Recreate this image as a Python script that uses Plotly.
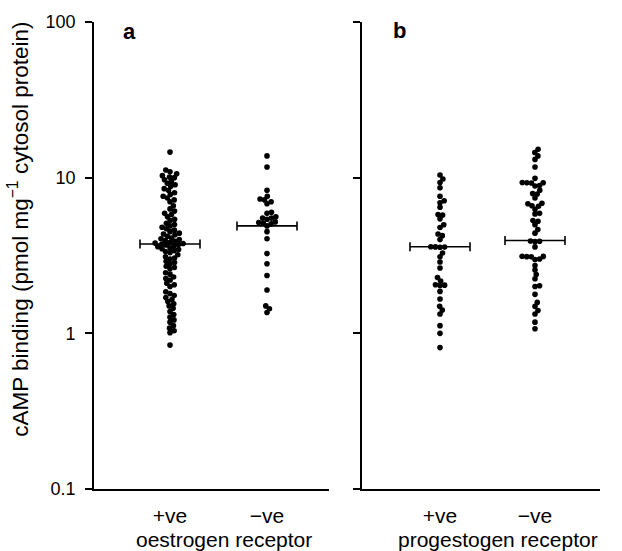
import numpy as np
import plotly.graph_objects as go

# ---------------- data ----------------
groups = ["+ve", "−ve"]

oestrogen_pos = [
    14.6,
    11.2, 10.9, 10.6, 10.3, 10.1, 10.0, 9.7, 9.5, 9.2, 9.0, 8.8, 8.5, 8.3, 8.0, 7.8, 7.6, 7.4, 7.2, 7.0,
    6.6, 6.3, 6.1, 5.9, 5.8, 5.6, 5.4, 5.3, 5.1, 5.0, 4.9, 4.8, 4.7, 4.6,
    4.5, 4.4, 4.35, 4.3, 4.2, 4.1, 4.05, 4.0, 3.95, 3.9, 3.85, 3.8, 3.78, 3.75, 3.72, 3.7,
    3.65, 3.6, 3.55, 3.5, 3.45, 3.4, 3.35, 3.3,
    3.2, 3.1, 3.05, 3.0, 2.9, 2.85, 2.8, 2.7, 2.65, 2.6,
    2.45, 2.4, 2.3, 2.25, 2.2, 2.1, 2.05, 2.0,
    1.85, 1.8, 1.75, 1.7, 1.65, 1.6, 1.55, 1.5, 1.45,
    1.38, 1.32, 1.27, 1.22, 1.18, 1.12, 1.08, 1.04, 1.01,
    0.84,
]
oestrogen_neg = [
    13.8, 11.7, 8.3, 7.6, 7.3, 7.2, 7.0, 6.8, 6.0, 5.9, 5.6, 5.5, 5.5, 5.4,
    5.2, 5.15, 5.1, 5.05, 4.9, 4.5, 4.05, 3.25, 2.8, 2.35, 1.9, 1.5, 1.44, 1.36,
]
progestogen_pos = [
    10.4, 9.8, 9.3, 8.6, 7.6, 7.1, 6.9, 6.45, 5.8, 5.75, 5.44, 4.98, 4.79, 4.35,
    4.24, 4.0, 3.6, 3.59, 3.58, 3.57, 3.28, 3.1, 2.87, 2.63, 2.28, 2.17, 2.05,
    2.04, 2.03, 1.86, 1.66, 1.49, 1.41, 1.33, 1.12, 1.0, 0.81,
]
progestogen_neg = [
    15.2, 14.5, 13.8, 13.1, 11.7, 9.9, 9.3, 9.28, 9.26, 9.24, 8.9, 8.85, 8.3,
    7.9, 7.85, 7.4, 6.85, 6.8, 6.6, 6.55, 6.27, 5.9, 5.85, 5.3, 5.25, 4.99,
    4.64, 4.4, 3.92, 3.9, 3.88, 3.59, 3.13, 3.12, 3.11, 3.1, 3.0, 2.98, 2.73,
    2.55, 2.39, 2.24, 2.02, 2.0, 1.78, 1.58, 1.49, 1.40, 1.33, 1.18, 1.07,
]
oestrogen_means = [3.75, 4.9]
progestogen_means = [3.6, 3.95]

y_ticks = [0.1, 1, 10, 100]
y_ticklabels = ["0.1", "1", "10", "100"]

# ---------------- layout constants ----------------
W, H = 622, 551
ML, MR, MT, MB = 94, 22, 17, 62
plot_w = W - ML - MR
plot_h = H - MT - MB
px_per_decade = plot_h / 3.0
panel_a_w = 235
panel_b_start = 362 - ML
panel_b_w = plot_w - panel_b_start
col_a = [76, 173]
col_b = [78, 173]
half_bar = 30
dot_d = 4.6
FONT = "Liberation Sans, Arial, Helvetica, sans-serif"


def swarm(values, d):
    ys = px_per_decade * np.log10(np.asarray(values, dtype=float))
    order = np.argsort(ys)
    placed = []
    xs = np.zeros(len(ys))
    for i in order:
        y = ys[i]
        near = [(px, py) for px, py in placed if abs(py - y) < d]
        cands = [0.0]
        for px, py in near:
            dx = np.sqrt(d * d - (py - y) ** 2)
            cands += [px + dx, px - dx]
        cands.sort(key=abs)
        for c in cands:
            if all((c - px) ** 2 + (y - py) ** 2 >= d * d - 1e-6 for px, py in near):
                xs[i] = c
                break
        placed.append((xs[i], y))
    return xs


fig = go.Figure()

panels = [
    ("x", "y", col_a, [oestrogen_pos, oestrogen_neg], oestrogen_means),
    ("x2", "y2", col_b, [progestogen_pos, progestogen_neg], progestogen_means),
]
for xa, ya, cols, series, means in panels:
    for cx, vals, m in zip(cols, series, means):
        offs = swarm(vals, dot_d)
        fig.add_trace(go.Scatter(
            x=cx + offs, y=vals, mode="markers", xaxis=xa, yaxis=ya,
            marker=dict(size=5.6, color="black", line=dict(width=0)),
            showlegend=False, hoverinfo="y"))
        fig.add_trace(go.Scatter(
            x=[cx], y=[m], mode="markers", xaxis=xa, yaxis=ya,
            marker=dict(size=1, color="rgba(0,0,0,0)"),
            error_x=dict(type="constant", value=half_bar, width=4.5,
                         thickness=1.6, color="black"),
            showlegend=False, hoverinfo="skip"))

axis_common = dict(showline=True, linecolor="black", linewidth=1.6,
                   showgrid=False, zeroline=False)
xcommon = dict(axis_common, ticks="outside", tickcolor="rgba(0,0,0,0)", ticklen=7,
               tickfont=dict(family=FONT, size=21, color="black"))
ycommon = dict(axis_common, type="log", range=[-1, 2], tickvals=y_ticks,
               ticks="outside", ticklen=7, tickwidth=1.6, tickcolor="black",
               tickfont=dict(family=FONT, size=18, color="black"))

fig.update_layout(
    width=W, height=H,
    margin=dict(l=ML, r=MR, t=MT, b=MB),
    paper_bgcolor="white", plot_bgcolor="white",
    xaxis=dict(xcommon, domain=[0, panel_a_w / plot_w], range=[0, panel_a_w],
               tickvals=col_a, ticktext=groups, anchor="y"),
    xaxis2=dict(xcommon, domain=[panel_b_start / plot_w, 1], range=[0, panel_b_w],
                tickvals=col_b, ticktext=groups, anchor="y2"),
    yaxis=dict(ycommon, ticktext=y_ticklabels, anchor="x", ticklabelstandoff=6),
    yaxis2=dict(ycommon, showticklabels=False, anchor="x2"),
)

ann_font = dict(family=FONT, size=21, color="black")
fig.add_annotation(text="cAMP binding (pmol mg<sup>−1</sup> cytosol protein)",
                   xref="paper", yref="paper", x=(18 - ML) / plot_w,
                   y=(H - MB - 227) / plot_h, textangle=-90, showarrow=False,
                   xanchor="center", yanchor="middle",
                   font=dict(family=FONT, size=22.5, color="black"))
fig.add_annotation(text="oestrogen receptor", xref="paper", yref="paper",
                   x=(224 - ML) / plot_w, y=(H - MB - 540) / plot_h,
                   showarrow=False, xanchor="center", yanchor="middle", font=ann_font)
fig.add_annotation(text="progestogen receptor", xref="paper", yref="paper",
                   x=(498 - ML) / plot_w, y=(H - MB - 540) / plot_h,
                   showarrow=False, xanchor="center", yanchor="middle", font=ann_font)
for label, xp, yp in [("a", 129, 27), ("b", 399, 26)]:
    fig.add_annotation(text="<b>%s</b>" % label, xref="paper", yref="paper",
                       x=(xp - ML) / plot_w, y=(H - MB - yp) / plot_h,
                       showarrow=False, xanchor="center", yanchor="middle",
                       font=dict(family=FONT, size=22, color="black"))

fig.write_html("out.html", config={"displayModeBar": False},
               post_script="document.body.style.margin='0';document.body.style.padding='0';")
